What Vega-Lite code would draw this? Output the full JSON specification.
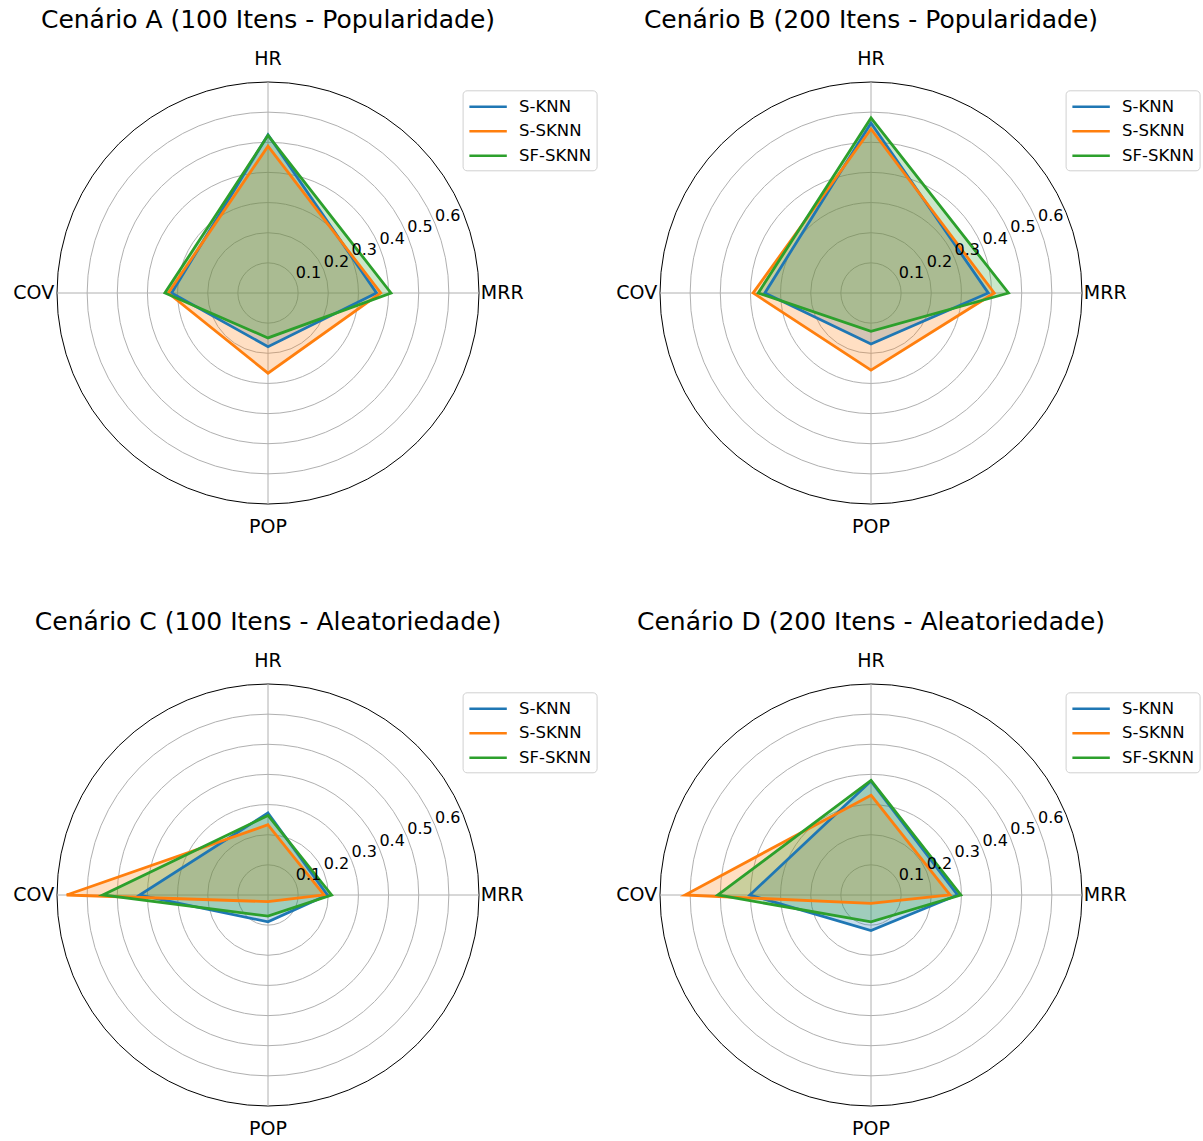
{
  "$schema": "https://vega.github.io/schema/vega-lite/v6.json",
  "padding": {"left": 13, "top": 8, "right": 0, "bottom": 0},
  "config": {"view": {"stroke": null}, "font": "DejaVu Sans", "title": {"font": "DejaVu Sans", "fontSize": 25, "fontWeight": "normal", "color": "#000000", "offset": 16.5}},
  "datasets": {
    "vals": [
      {"p": "A", "model": "S-KNN", "metric": "HR", "v": 0.525}, {"p": "A", "model": "S-KNN", "metric": "MRR", "v": 0.36}, {"p": "A", "model": "S-KNN", "metric": "POP", "v": 0.178}, {"p": "A", "model": "S-KNN", "metric": "COV", "v": 0.32},
      {"p": "A", "model": "S-SKNN", "metric": "HR", "v": 0.487}, {"p": "A", "model": "S-SKNN", "metric": "MRR", "v": 0.374}, {"p": "A", "model": "S-SKNN", "metric": "POP", "v": 0.266}, {"p": "A", "model": "S-SKNN", "metric": "COV", "v": 0.331},
      {"p": "A", "model": "SF-SKNN", "metric": "HR", "v": 0.523}, {"p": "A", "model": "SF-SKNN", "metric": "MRR", "v": 0.408}, {"p": "A", "model": "SF-SKNN", "metric": "POP", "v": 0.149}, {"p": "A", "model": "SF-SKNN", "metric": "COV", "v": 0.342},
      {"p": "B", "model": "S-KNN", "metric": "HR", "v": 0.564}, {"p": "B", "model": "S-KNN", "metric": "MRR", "v": 0.389}, {"p": "B", "model": "S-KNN", "metric": "POP", "v": 0.169}, {"p": "B", "model": "S-KNN", "metric": "COV", "v": 0.352},
      {"p": "B", "model": "S-SKNN", "metric": "HR", "v": 0.544}, {"p": "B", "model": "S-SKNN", "metric": "MRR", "v": 0.409}, {"p": "B", "model": "S-SKNN", "metric": "POP", "v": 0.256}, {"p": "B", "model": "S-SKNN", "metric": "COV", "v": 0.391},
      {"p": "B", "model": "SF-SKNN", "metric": "HR", "v": 0.581}, {"p": "B", "model": "SF-SKNN", "metric": "MRR", "v": 0.456}, {"p": "B", "model": "SF-SKNN", "metric": "POP", "v": 0.127}, {"p": "B", "model": "SF-SKNN", "metric": "COV", "v": 0.374},
      {"p": "C", "model": "S-KNN", "metric": "HR", "v": 0.272}, {"p": "C", "model": "S-KNN", "metric": "MRR", "v": 0.197}, {"p": "C", "model": "S-KNN", "metric": "POP", "v": 0.089}, {"p": "C", "model": "S-KNN", "metric": "COV", "v": 0.426},
      {"p": "C", "model": "S-SKNN", "metric": "HR", "v": 0.233}, {"p": "C", "model": "S-SKNN", "metric": "MRR", "v": 0.186}, {"p": "C", "model": "S-SKNN", "metric": "POP", "v": 0.022}, {"p": "C", "model": "S-SKNN", "metric": "COV", "v": 0.668},
      {"p": "C", "model": "SF-SKNN", "metric": "HR", "v": 0.264}, {"p": "C", "model": "SF-SKNN", "metric": "MRR", "v": 0.211}, {"p": "C", "model": "SF-SKNN", "metric": "POP", "v": 0.07}, {"p": "C", "model": "SF-SKNN", "metric": "COV", "v": 0.548},
      {"p": "D", "model": "S-KNN", "metric": "HR", "v": 0.378}, {"p": "D", "model": "S-KNN", "metric": "MRR", "v": 0.287}, {"p": "D", "model": "S-KNN", "metric": "POP", "v": 0.118}, {"p": "D", "model": "S-KNN", "metric": "COV", "v": 0.402},
      {"p": "D", "model": "S-SKNN", "metric": "HR", "v": 0.331}, {"p": "D", "model": "S-SKNN", "metric": "MRR", "v": 0.262}, {"p": "D", "model": "S-SKNN", "metric": "POP", "v": 0.028}, {"p": "D", "model": "S-SKNN", "metric": "COV", "v": 0.617},
      {"p": "D", "model": "SF-SKNN", "metric": "HR", "v": 0.38}, {"p": "D", "model": "SF-SKNN", "metric": "MRR", "v": 0.298}, {"p": "D", "model": "SF-SKNN", "metric": "POP", "v": 0.089}, {"p": "D", "model": "SF-SKNN", "metric": "COV", "v": 0.508}
    ],
    "rings": [{"r": 0.1}, {"r": 0.2}, {"r": 0.3}, {"r": 0.4}, {"r": 0.5}, {"r": 0.6}, {"r": 0.7}],
    "ticks": [{"v": 0.1}, {"v": 0.2}, {"v": 0.3}, {"v": 0.4}, {"v": 0.5}, {"v": 0.6}],
    "axes": [{"metric": "HR"}, {"metric": "MRR"}, {"metric": "POP"}, {"metric": "COV"}]
  },
  "columns": 2,
  "spacing": {"row": 180, "column": 181},
  "bounds": "flush",
  "resolve": {"scale": {"stroke": "independent", "fill": "independent"}, "legend": {"stroke": "independent", "fill": "independent"}},
  "concat": [
    {
      "title": "Cenário A (100 Itens - Popularidade)",
      "width": 422, "height": 422,
      "layer": [
        {"data": {"name": "rings"}, "mark": {"type": "point", "shape": "circle", "filled": false, "strokeWidth": 1, "opacity": 1},
         "encoding": {"x": {"datum": 0, "type": "quantitative", "scale": {"domain": [-0.7, 0.7], "nice": false, "zero": false}, "axis": null},
                      "y": {"datum": 0, "type": "quantitative", "scale": {"domain": [-0.7, 0.7], "nice": false, "zero": false}, "axis": null},
                      "size": {"field": "r", "type": "quantitative", "scale": {"type": "pow", "exponent": 2, "domain": [0, 0.7], "range": [0, 178084], "zero": true, "nice": false}, "legend": null},
                      "stroke": {"condition": {"test": "datum.r > 0.65", "value": "#000000"}, "value": "#b0b0b0"}}},
        {"data": {"name": "axes"}, "transform": [{"calculate": "datum.metric==='MRR'?0.7:datum.metric==='COV'?-0.7:0", "as": "px"}, {"calculate": "datum.metric==='HR'?0.7:datum.metric==='POP'?-0.7:0", "as": "py"}],
         "mark": {"type": "rule", "color": "#b0b0b0", "strokeWidth": 1},
         "encoding": {"x": {"field": "px", "type": "quantitative", "scale": {"domain": [-0.7, 0.7], "nice": false, "zero": false}, "axis": null},
                      "y": {"field": "py", "type": "quantitative", "scale": {"domain": [-0.7, 0.7], "nice": false, "zero": false}, "axis": null},
                      "x2": {"datum": 0}, "y2": {"datum": 0}}},
        {"data": {"name": "vals"}, "transform": [{"filter": "datum.p==='A'"}, {"calculate": "datum.metric==='MRR'?datum.v:datum.metric==='COV'?-datum.v:0", "as": "px"}, {"calculate": "datum.metric==='HR'?datum.v:datum.metric==='POP'?-datum.v:0", "as": "py"}, {"calculate": "indexof(['HR','MRR','POP','COV'], datum.metric)", "as": "k"}],
         "mark": {"type": "line", "interpolate": "linear-closed", "strokeWidth": 0, "strokeOpacity": 0, "fillOpacity": 0.25},
         "encoding": {"x": {"field": "px", "type": "quantitative", "scale": {"domain": [-0.7, 0.7], "nice": false, "zero": false}, "axis": null},
                      "y": {"field": "py", "type": "quantitative", "scale": {"domain": [-0.7, 0.7], "nice": false, "zero": false}, "axis": null},
                      "order": {"field": "k", "type": "quantitative"},
                      "fill": {"field": "model", "type": "nominal", "scale": {"domain": ["SF-SKNN", "S-SKNN", "S-KNN"], "range": ["#2ca02c", "#ff7f0e", "#1f77b4"]}, "legend": null}}},
        {"data": {"name": "vals"}, "transform": [{"filter": "datum.p==='A'"}, {"calculate": "datum.metric==='MRR'?datum.v:datum.metric==='COV'?-datum.v:0", "as": "px"}, {"calculate": "datum.metric==='HR'?datum.v:datum.metric==='POP'?-datum.v:0", "as": "py"}, {"calculate": "indexof(['HR','MRR','POP','COV'], datum.metric)", "as": "k"}],
         "mark": {"type": "line", "interpolate": "linear-closed", "strokeWidth": 2.8},
         "encoding": {"x": {"field": "px", "type": "quantitative", "scale": {"domain": [-0.7, 0.7], "nice": false, "zero": false}, "axis": null},
                      "y": {"field": "py", "type": "quantitative", "scale": {"domain": [-0.7, 0.7], "nice": false, "zero": false}, "axis": null},
                      "order": {"field": "k", "type": "quantitative"},
                      "stroke": {"field": "model", "type": "nominal", "scale": {"domain": ["S-KNN", "S-SKNN", "SF-SKNN"], "range": ["#1f77b4", "#ff7f0e", "#2ca02c"]},
                                 "legend": {"orient": "none", "legendX": 405.6, "legendY": 8.3, "title": null, "symbolType": "M-2,0H2", "symbolSize": 350, "symbolStrokeWidth": 2.5, "symbolOffset": 9, "labelOffset": 20, "labelFontSize": 16.5, "labelFont": "DejaVu Sans", "labelColor": "#000000", "padding": 5.5, "rowPadding": 4.5, "strokeColor": "#d0d0d0", "fillColor": "#ffffff", "cornerRadius": 4}}}},
        {"data": {"name": "ticks"}, "transform": [{"calculate": "datum.v*cos(PI/8)", "as": "px"}, {"calculate": "datum.v*sin(PI/8)", "as": "py"}],
         "mark": {"type": "text", "align": "left", "baseline": "bottom", "fontSize": 16, "font": "DejaVu Sans", "color": "#000000"},
         "encoding": {"x": {"field": "px", "type": "quantitative", "scale": {"domain": [-0.7, 0.7], "nice": false, "zero": false}, "axis": null},
                      "y": {"field": "py", "type": "quantitative", "scale": {"domain": [-0.7, 0.7], "nice": false, "zero": false}, "axis": null},
                      "text": {"field": "v", "type": "quantitative", "format": ".1f"}}},
        {"data": {"name": "axes"}, "transform": [{"calculate": "datum.metric==='MRR'?0.777:datum.metric==='COV'?-0.777:0", "as": "px"}, {"calculate": "datum.metric==='HR'?0.777:datum.metric==='POP'?-0.777:0", "as": "py"}],
         "mark": {"type": "text", "align": "center", "baseline": "middle", "fontSize": 19, "font": "DejaVu Sans", "color": "#000000"},
         "encoding": {"x": {"field": "px", "type": "quantitative", "scale": {"domain": [-0.7, 0.7], "nice": false, "zero": false}, "axis": null},
                      "y": {"field": "py", "type": "quantitative", "scale": {"domain": [-0.7, 0.7], "nice": false, "zero": false}, "axis": null},
                      "text": {"field": "metric", "type": "nominal"}}}
      ]
    },
    {
      "title": "Cenário B (200 Itens - Popularidade)",
      "width": 422, "height": 422,
      "layer": [
        {"data": {"name": "rings"}, "mark": {"type": "point", "shape": "circle", "filled": false, "strokeWidth": 1, "opacity": 1},
         "encoding": {"x": {"datum": 0, "type": "quantitative", "scale": {"domain": [-0.7, 0.7], "nice": false, "zero": false}, "axis": null},
                      "y": {"datum": 0, "type": "quantitative", "scale": {"domain": [-0.7, 0.7], "nice": false, "zero": false}, "axis": null},
                      "size": {"field": "r", "type": "quantitative", "scale": {"type": "pow", "exponent": 2, "domain": [0, 0.7], "range": [0, 178084], "zero": true, "nice": false}, "legend": null},
                      "stroke": {"condition": {"test": "datum.r > 0.65", "value": "#000000"}, "value": "#b0b0b0"}}},
        {"data": {"name": "axes"}, "transform": [{"calculate": "datum.metric==='MRR'?0.7:datum.metric==='COV'?-0.7:0", "as": "px"}, {"calculate": "datum.metric==='HR'?0.7:datum.metric==='POP'?-0.7:0", "as": "py"}],
         "mark": {"type": "rule", "color": "#b0b0b0", "strokeWidth": 1},
         "encoding": {"x": {"field": "px", "type": "quantitative", "scale": {"domain": [-0.7, 0.7], "nice": false, "zero": false}, "axis": null},
                      "y": {"field": "py", "type": "quantitative", "scale": {"domain": [-0.7, 0.7], "nice": false, "zero": false}, "axis": null},
                      "x2": {"datum": 0}, "y2": {"datum": 0}}},
        {"data": {"name": "vals"}, "transform": [{"filter": "datum.p==='B'"}, {"calculate": "datum.metric==='MRR'?datum.v:datum.metric==='COV'?-datum.v:0", "as": "px"}, {"calculate": "datum.metric==='HR'?datum.v:datum.metric==='POP'?-datum.v:0", "as": "py"}, {"calculate": "indexof(['HR','MRR','POP','COV'], datum.metric)", "as": "k"}],
         "mark": {"type": "line", "interpolate": "linear-closed", "strokeWidth": 0, "strokeOpacity": 0, "fillOpacity": 0.25},
         "encoding": {"x": {"field": "px", "type": "quantitative", "scale": {"domain": [-0.7, 0.7], "nice": false, "zero": false}, "axis": null},
                      "y": {"field": "py", "type": "quantitative", "scale": {"domain": [-0.7, 0.7], "nice": false, "zero": false}, "axis": null},
                      "order": {"field": "k", "type": "quantitative"},
                      "fill": {"field": "model", "type": "nominal", "scale": {"domain": ["SF-SKNN", "S-SKNN", "S-KNN"], "range": ["#2ca02c", "#ff7f0e", "#1f77b4"]}, "legend": null}}},
        {"data": {"name": "vals"}, "transform": [{"filter": "datum.p==='B'"}, {"calculate": "datum.metric==='MRR'?datum.v:datum.metric==='COV'?-datum.v:0", "as": "px"}, {"calculate": "datum.metric==='HR'?datum.v:datum.metric==='POP'?-datum.v:0", "as": "py"}, {"calculate": "indexof(['HR','MRR','POP','COV'], datum.metric)", "as": "k"}],
         "mark": {"type": "line", "interpolate": "linear-closed", "strokeWidth": 2.8},
         "encoding": {"x": {"field": "px", "type": "quantitative", "scale": {"domain": [-0.7, 0.7], "nice": false, "zero": false}, "axis": null},
                      "y": {"field": "py", "type": "quantitative", "scale": {"domain": [-0.7, 0.7], "nice": false, "zero": false}, "axis": null},
                      "order": {"field": "k", "type": "quantitative"},
                      "stroke": {"field": "model", "type": "nominal", "scale": {"domain": ["S-KNN", "S-SKNN", "SF-SKNN"], "range": ["#1f77b4", "#ff7f0e", "#2ca02c"]},
                                 "legend": {"orient": "none", "legendX": 405.6, "legendY": 8.3, "title": null, "symbolType": "M-2,0H2", "symbolSize": 350, "symbolStrokeWidth": 2.5, "symbolOffset": 9, "labelOffset": 20, "labelFontSize": 16.5, "labelFont": "DejaVu Sans", "labelColor": "#000000", "padding": 5.5, "rowPadding": 4.5, "strokeColor": "#d0d0d0", "fillColor": "#ffffff", "cornerRadius": 4}}}},
        {"data": {"name": "ticks"}, "transform": [{"calculate": "datum.v*cos(PI/8)", "as": "px"}, {"calculate": "datum.v*sin(PI/8)", "as": "py"}],
         "mark": {"type": "text", "align": "left", "baseline": "bottom", "fontSize": 16, "font": "DejaVu Sans", "color": "#000000"},
         "encoding": {"x": {"field": "px", "type": "quantitative", "scale": {"domain": [-0.7, 0.7], "nice": false, "zero": false}, "axis": null},
                      "y": {"field": "py", "type": "quantitative", "scale": {"domain": [-0.7, 0.7], "nice": false, "zero": false}, "axis": null},
                      "text": {"field": "v", "type": "quantitative", "format": ".1f"}}},
        {"data": {"name": "axes"}, "transform": [{"calculate": "datum.metric==='MRR'?0.777:datum.metric==='COV'?-0.777:0", "as": "px"}, {"calculate": "datum.metric==='HR'?0.777:datum.metric==='POP'?-0.777:0", "as": "py"}],
         "mark": {"type": "text", "align": "center", "baseline": "middle", "fontSize": 19, "font": "DejaVu Sans", "color": "#000000"},
         "encoding": {"x": {"field": "px", "type": "quantitative", "scale": {"domain": [-0.7, 0.7], "nice": false, "zero": false}, "axis": null},
                      "y": {"field": "py", "type": "quantitative", "scale": {"domain": [-0.7, 0.7], "nice": false, "zero": false}, "axis": null},
                      "text": {"field": "metric", "type": "nominal"}}}
      ]
    },
    {
      "title": "Cenário C (100 Itens - Aleatoriedade)",
      "width": 422, "height": 422,
      "layer": [
        {"data": {"name": "rings"}, "mark": {"type": "point", "shape": "circle", "filled": false, "strokeWidth": 1, "opacity": 1},
         "encoding": {"x": {"datum": 0, "type": "quantitative", "scale": {"domain": [-0.7, 0.7], "nice": false, "zero": false}, "axis": null},
                      "y": {"datum": 0, "type": "quantitative", "scale": {"domain": [-0.7, 0.7], "nice": false, "zero": false}, "axis": null},
                      "size": {"field": "r", "type": "quantitative", "scale": {"type": "pow", "exponent": 2, "domain": [0, 0.7], "range": [0, 178084], "zero": true, "nice": false}, "legend": null},
                      "stroke": {"condition": {"test": "datum.r > 0.65", "value": "#000000"}, "value": "#b0b0b0"}}},
        {"data": {"name": "axes"}, "transform": [{"calculate": "datum.metric==='MRR'?0.7:datum.metric==='COV'?-0.7:0", "as": "px"}, {"calculate": "datum.metric==='HR'?0.7:datum.metric==='POP'?-0.7:0", "as": "py"}],
         "mark": {"type": "rule", "color": "#b0b0b0", "strokeWidth": 1},
         "encoding": {"x": {"field": "px", "type": "quantitative", "scale": {"domain": [-0.7, 0.7], "nice": false, "zero": false}, "axis": null},
                      "y": {"field": "py", "type": "quantitative", "scale": {"domain": [-0.7, 0.7], "nice": false, "zero": false}, "axis": null},
                      "x2": {"datum": 0}, "y2": {"datum": 0}}},
        {"data": {"name": "vals"}, "transform": [{"filter": "datum.p==='C'"}, {"calculate": "datum.metric==='MRR'?datum.v:datum.metric==='COV'?-datum.v:0", "as": "px"}, {"calculate": "datum.metric==='HR'?datum.v:datum.metric==='POP'?-datum.v:0", "as": "py"}, {"calculate": "indexof(['HR','MRR','POP','COV'], datum.metric)", "as": "k"}],
         "mark": {"type": "line", "interpolate": "linear-closed", "strokeWidth": 0, "strokeOpacity": 0, "fillOpacity": 0.25},
         "encoding": {"x": {"field": "px", "type": "quantitative", "scale": {"domain": [-0.7, 0.7], "nice": false, "zero": false}, "axis": null},
                      "y": {"field": "py", "type": "quantitative", "scale": {"domain": [-0.7, 0.7], "nice": false, "zero": false}, "axis": null},
                      "order": {"field": "k", "type": "quantitative"},
                      "fill": {"field": "model", "type": "nominal", "scale": {"domain": ["SF-SKNN", "S-SKNN", "S-KNN"], "range": ["#2ca02c", "#ff7f0e", "#1f77b4"]}, "legend": null}}},
        {"data": {"name": "vals"}, "transform": [{"filter": "datum.p==='C'"}, {"calculate": "datum.metric==='MRR'?datum.v:datum.metric==='COV'?-datum.v:0", "as": "px"}, {"calculate": "datum.metric==='HR'?datum.v:datum.metric==='POP'?-datum.v:0", "as": "py"}, {"calculate": "indexof(['HR','MRR','POP','COV'], datum.metric)", "as": "k"}],
         "mark": {"type": "line", "interpolate": "linear-closed", "strokeWidth": 2.8},
         "encoding": {"x": {"field": "px", "type": "quantitative", "scale": {"domain": [-0.7, 0.7], "nice": false, "zero": false}, "axis": null},
                      "y": {"field": "py", "type": "quantitative", "scale": {"domain": [-0.7, 0.7], "nice": false, "zero": false}, "axis": null},
                      "order": {"field": "k", "type": "quantitative"},
                      "stroke": {"field": "model", "type": "nominal", "scale": {"domain": ["S-KNN", "S-SKNN", "SF-SKNN"], "range": ["#1f77b4", "#ff7f0e", "#2ca02c"]},
                                 "legend": {"orient": "none", "legendX": 405.6, "legendY": 8.3, "title": null, "symbolType": "M-2,0H2", "symbolSize": 350, "symbolStrokeWidth": 2.5, "symbolOffset": 9, "labelOffset": 20, "labelFontSize": 16.5, "labelFont": "DejaVu Sans", "labelColor": "#000000", "padding": 5.5, "rowPadding": 4.5, "strokeColor": "#d0d0d0", "fillColor": "#ffffff", "cornerRadius": 4}}}},
        {"data": {"name": "ticks"}, "transform": [{"calculate": "datum.v*cos(PI/8)", "as": "px"}, {"calculate": "datum.v*sin(PI/8)", "as": "py"}],
         "mark": {"type": "text", "align": "left", "baseline": "bottom", "fontSize": 16, "font": "DejaVu Sans", "color": "#000000"},
         "encoding": {"x": {"field": "px", "type": "quantitative", "scale": {"domain": [-0.7, 0.7], "nice": false, "zero": false}, "axis": null},
                      "y": {"field": "py", "type": "quantitative", "scale": {"domain": [-0.7, 0.7], "nice": false, "zero": false}, "axis": null},
                      "text": {"field": "v", "type": "quantitative", "format": ".1f"}}},
        {"data": {"name": "axes"}, "transform": [{"calculate": "datum.metric==='MRR'?0.777:datum.metric==='COV'?-0.777:0", "as": "px"}, {"calculate": "datum.metric==='HR'?0.777:datum.metric==='POP'?-0.777:0", "as": "py"}],
         "mark": {"type": "text", "align": "center", "baseline": "middle", "fontSize": 19, "font": "DejaVu Sans", "color": "#000000"},
         "encoding": {"x": {"field": "px", "type": "quantitative", "scale": {"domain": [-0.7, 0.7], "nice": false, "zero": false}, "axis": null},
                      "y": {"field": "py", "type": "quantitative", "scale": {"domain": [-0.7, 0.7], "nice": false, "zero": false}, "axis": null},
                      "text": {"field": "metric", "type": "nominal"}}}
      ]
    },
    {
      "title": "Cenário D (200 Itens - Aleatoriedade)",
      "width": 422, "height": 422,
      "layer": [
        {"data": {"name": "rings"}, "mark": {"type": "point", "shape": "circle", "filled": false, "strokeWidth": 1, "opacity": 1},
         "encoding": {"x": {"datum": 0, "type": "quantitative", "scale": {"domain": [-0.7, 0.7], "nice": false, "zero": false}, "axis": null},
                      "y": {"datum": 0, "type": "quantitative", "scale": {"domain": [-0.7, 0.7], "nice": false, "zero": false}, "axis": null},
                      "size": {"field": "r", "type": "quantitative", "scale": {"type": "pow", "exponent": 2, "domain": [0, 0.7], "range": [0, 178084], "zero": true, "nice": false}, "legend": null},
                      "stroke": {"condition": {"test": "datum.r > 0.65", "value": "#000000"}, "value": "#b0b0b0"}}},
        {"data": {"name": "axes"}, "transform": [{"calculate": "datum.metric==='MRR'?0.7:datum.metric==='COV'?-0.7:0", "as": "px"}, {"calculate": "datum.metric==='HR'?0.7:datum.metric==='POP'?-0.7:0", "as": "py"}],
         "mark": {"type": "rule", "color": "#b0b0b0", "strokeWidth": 1},
         "encoding": {"x": {"field": "px", "type": "quantitative", "scale": {"domain": [-0.7, 0.7], "nice": false, "zero": false}, "axis": null},
                      "y": {"field": "py", "type": "quantitative", "scale": {"domain": [-0.7, 0.7], "nice": false, "zero": false}, "axis": null},
                      "x2": {"datum": 0}, "y2": {"datum": 0}}},
        {"data": {"name": "vals"}, "transform": [{"filter": "datum.p==='D'"}, {"calculate": "datum.metric==='MRR'?datum.v:datum.metric==='COV'?-datum.v:0", "as": "px"}, {"calculate": "datum.metric==='HR'?datum.v:datum.metric==='POP'?-datum.v:0", "as": "py"}, {"calculate": "indexof(['HR','MRR','POP','COV'], datum.metric)", "as": "k"}],
         "mark": {"type": "line", "interpolate": "linear-closed", "strokeWidth": 0, "strokeOpacity": 0, "fillOpacity": 0.25},
         "encoding": {"x": {"field": "px", "type": "quantitative", "scale": {"domain": [-0.7, 0.7], "nice": false, "zero": false}, "axis": null},
                      "y": {"field": "py", "type": "quantitative", "scale": {"domain": [-0.7, 0.7], "nice": false, "zero": false}, "axis": null},
                      "order": {"field": "k", "type": "quantitative"},
                      "fill": {"field": "model", "type": "nominal", "scale": {"domain": ["SF-SKNN", "S-SKNN", "S-KNN"], "range": ["#2ca02c", "#ff7f0e", "#1f77b4"]}, "legend": null}}},
        {"data": {"name": "vals"}, "transform": [{"filter": "datum.p==='D'"}, {"calculate": "datum.metric==='MRR'?datum.v:datum.metric==='COV'?-datum.v:0", "as": "px"}, {"calculate": "datum.metric==='HR'?datum.v:datum.metric==='POP'?-datum.v:0", "as": "py"}, {"calculate": "indexof(['HR','MRR','POP','COV'], datum.metric)", "as": "k"}],
         "mark": {"type": "line", "interpolate": "linear-closed", "strokeWidth": 2.8},
         "encoding": {"x": {"field": "px", "type": "quantitative", "scale": {"domain": [-0.7, 0.7], "nice": false, "zero": false}, "axis": null},
                      "y": {"field": "py", "type": "quantitative", "scale": {"domain": [-0.7, 0.7], "nice": false, "zero": false}, "axis": null},
                      "order": {"field": "k", "type": "quantitative"},
                      "stroke": {"field": "model", "type": "nominal", "scale": {"domain": ["S-KNN", "S-SKNN", "SF-SKNN"], "range": ["#1f77b4", "#ff7f0e", "#2ca02c"]},
                                 "legend": {"orient": "none", "legendX": 405.6, "legendY": 8.3, "title": null, "symbolType": "M-2,0H2", "symbolSize": 350, "symbolStrokeWidth": 2.5, "symbolOffset": 9, "labelOffset": 20, "labelFontSize": 16.5, "labelFont": "DejaVu Sans", "labelColor": "#000000", "padding": 5.5, "rowPadding": 4.5, "strokeColor": "#d0d0d0", "fillColor": "#ffffff", "cornerRadius": 4}}}},
        {"data": {"name": "ticks"}, "transform": [{"calculate": "datum.v*cos(PI/8)", "as": "px"}, {"calculate": "datum.v*sin(PI/8)", "as": "py"}],
         "mark": {"type": "text", "align": "left", "baseline": "bottom", "fontSize": 16, "font": "DejaVu Sans", "color": "#000000"},
         "encoding": {"x": {"field": "px", "type": "quantitative", "scale": {"domain": [-0.7, 0.7], "nice": false, "zero": false}, "axis": null},
                      "y": {"field": "py", "type": "quantitative", "scale": {"domain": [-0.7, 0.7], "nice": false, "zero": false}, "axis": null},
                      "text": {"field": "v", "type": "quantitative", "format": ".1f"}}},
        {"data": {"name": "axes"}, "transform": [{"calculate": "datum.metric==='MRR'?0.777:datum.metric==='COV'?-0.777:0", "as": "px"}, {"calculate": "datum.metric==='HR'?0.777:datum.metric==='POP'?-0.777:0", "as": "py"}],
         "mark": {"type": "text", "align": "center", "baseline": "middle", "fontSize": 19, "font": "DejaVu Sans", "color": "#000000"},
         "encoding": {"x": {"field": "px", "type": "quantitative", "scale": {"domain": [-0.7, 0.7], "nice": false, "zero": false}, "axis": null},
                      "y": {"field": "py", "type": "quantitative", "scale": {"domain": [-0.7, 0.7], "nice": false, "zero": false}, "axis": null},
                      "text": {"field": "metric", "type": "nominal"}}}
      ]
    }
  ]
}
